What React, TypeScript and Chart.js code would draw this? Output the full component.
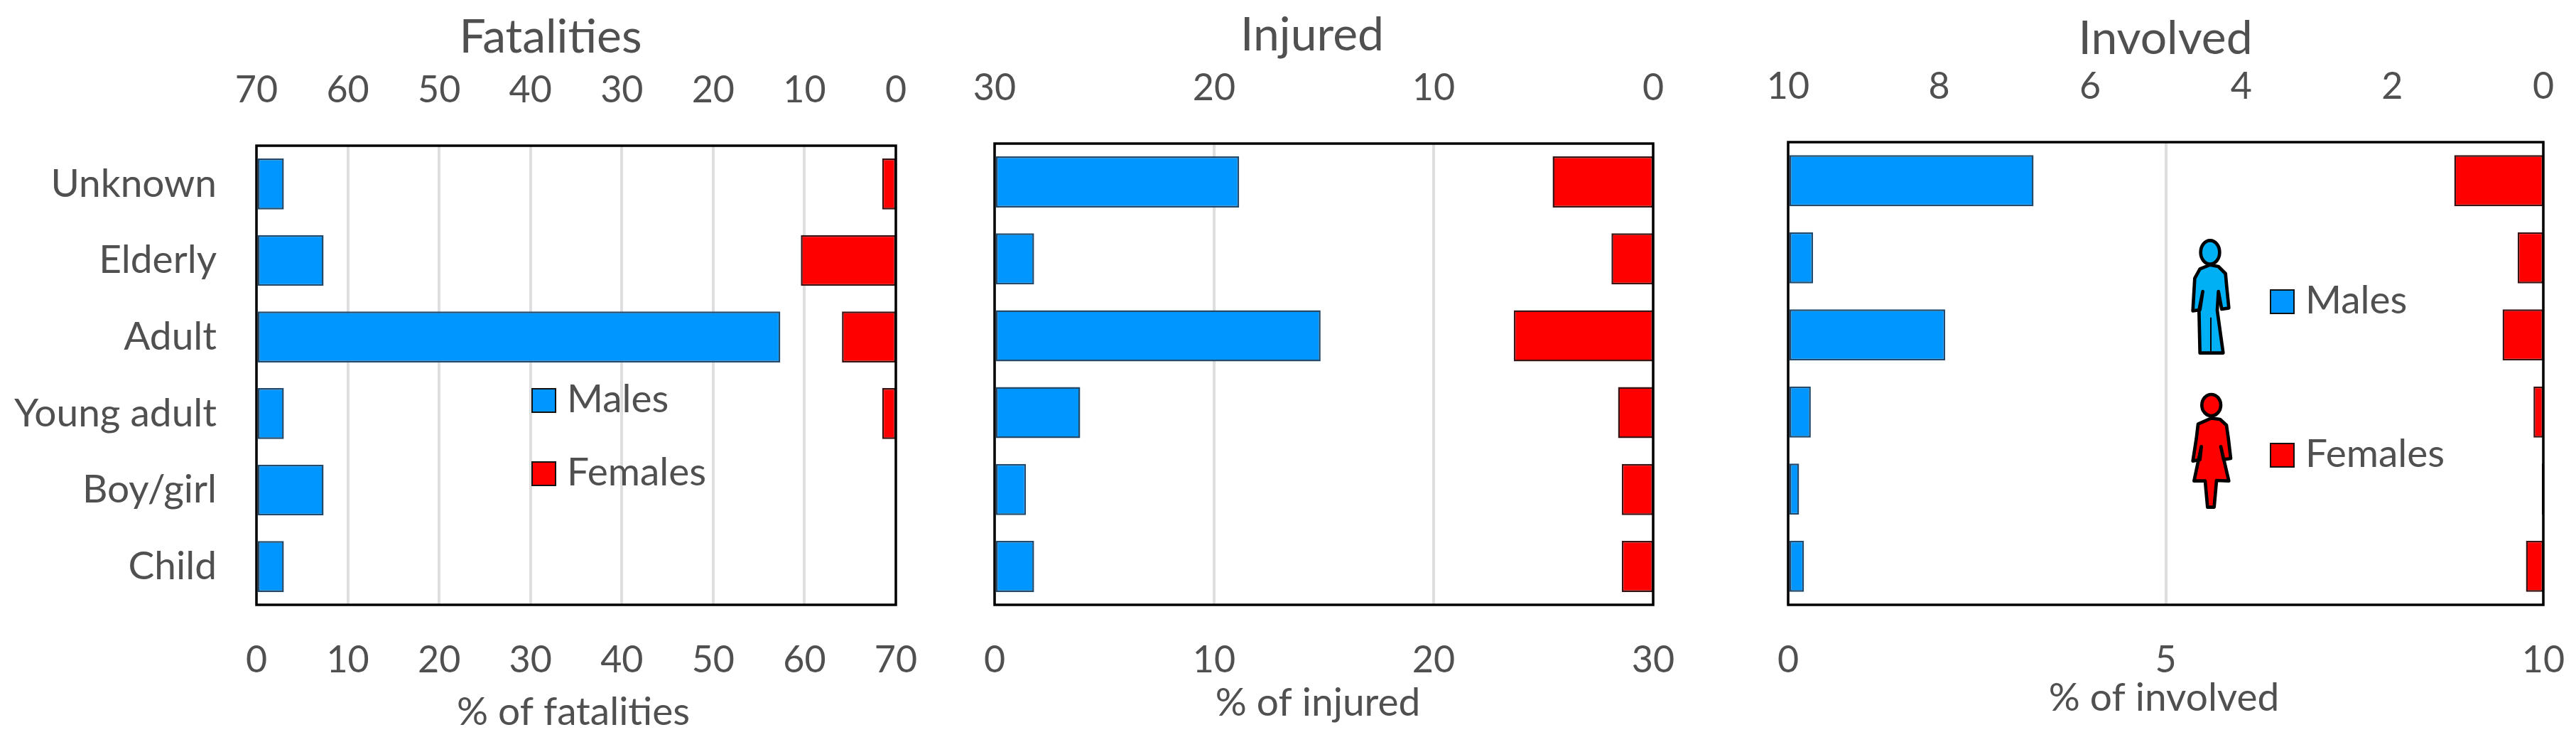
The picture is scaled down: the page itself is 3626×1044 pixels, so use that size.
import { useRef, useEffect } from 'react';
import { Chart, registerables, type Plugin } from 'chart.js';

Chart.register(...registerables);

const categories = ['Unknown', 'Elderly', 'Adult', 'Young adult', 'Boy/girl', 'Child'];

const fatalitiesMales = [3, 7.35, 57.35, 3, 7.35, 3];
const fatalitiesFemales = [1.5, 10.4, 5.9, 1.5, 0, 0];
const injuredMales = [11.14, 1.8, 14.85, 3.9, 1.43, 1.8];
const injuredFemales = [4.58, 1.9, 6.35, 1.6, 1.43, 1.43];
const involvedMales = [3.25, 0.33, 2.08, 0.3, 0.145, 0.21];
const involvedFemales = [1.18, 0.34, 0.54, 0.13, 0.02, 0.23];

const FONT = 'Lato';
const TEXT = '#505050';
const BLUE = '#0096ff';
const RED = '#ff0000';
const HEIGHT = 1044;

// outlines of the two little figures, in 3x px of the image
const maleBody = [
  [633, 218], [668, 225], [698, 255], [703, 310], [712, 400], [682, 405], [668, 330],
  [663, 410], [688, 590], [590, 590], [586, 410], [602, 330], [590, 408], [560, 412],
  [568, 275], [590, 235],
];
const femaleBody = [
  [638, 865], [675, 870], [702, 895], [710, 950], [720, 1035], [690, 1040], [678, 985],
  [712, 1130], [660, 1128], [650, 1241], [622, 1241], [612, 1130], [565, 1130], [596, 985],
  [590, 1040], [560, 1046], [575, 950], [582, 890],
];

function drawFigure(ctx: CanvasRenderingContext2D, body: number[][], cx: number, cy: number, rx: number, ry: number, fill: string, slit: boolean) {
  ctx.save();
  ctx.translate(500, 300);
  ctx.scale(1 / 3, 1 / 3);
  ctx.lineWidth = 14;
  ctx.lineJoin = 'round';
  ctx.strokeStyle = '#000';
  ctx.fillStyle = fill;
  ctx.beginPath();
  body.forEach(([x, y], i) => (i ? ctx.lineTo(x, y) : ctx.moveTo(x, y)));
  ctx.closePath();
  ctx.fill();
  ctx.stroke();
  if (slit) {
    ctx.beginPath();
    ctx.moveTo(636, 590);
    ctx.lineTo(636, 440);
    ctx.lineWidth = 6;
    ctx.stroke();
  }
  ctx.beginPath();
  ctx.ellipse(cx, cy, rx, ry, 0, 0, Math.PI * 2);
  ctx.fill();
  ctx.lineWidth = 14;
  ctx.stroke();
  ctx.restore();
}

type PanelProps = {
  left: number;
  width: number;
  plotLeft: number;
  plotRight: number;
  plotTop: number;
  plotBottom: number;
  max: number;
  bottomStep: number;
  topStep: number;
  males: number[];
  females: number[];
  title: string;
  titleX: number;
  titleY: number;
  xLabel: string;
  xLabelX: number;
  xLabelY: number;
  showCategories: boolean;
  legendX?: number;
  legendYs?: number[];
  figures: boolean;
};

const Panel = (p: PanelProps) => {
  const ref = useRef<HTMLCanvasElement | null>(null);

  useEffect(() => {
    if (!ref.current) return;

    const panelPlugin: Plugin<'bar'> = {
      id: 'panelExtras',
      afterDatasetsDraw: (chart) => {
        const { ctx, chartArea } = chart;
        ctx.save();
        // frame over the bars
        ctx.strokeStyle = '#000';
        ctx.lineWidth = 3.5;
        ctx.strokeRect(chartArea.left, chartArea.top, chartArea.right - chartArea.left, chartArea.bottom - chartArea.top);

        ctx.fillStyle = TEXT;
        ctx.textAlign = 'center';
        ctx.textBaseline = 'middle';
        ctx.font = `66px ${FONT}`;
        ctx.fillText(p.title, p.titleX, p.titleY);
        ctx.font = `55px ${FONT}`;
        ctx.fillText(p.xLabel, p.xLabelX, p.xLabelY);

        // legend, the injured panel has none
        if (p.legendYs) {
          const legendX = p.legendX as number;
          chart.data.datasets.forEach((ds, i) => {
            const y = (p.legendYs as number[])[i];
            ctx.fillStyle = ds.backgroundColor as string;
            ctx.fillRect(legendX, y, 33, 33);
            ctx.strokeStyle = '#111';
            ctx.lineWidth = 2;
            ctx.strokeRect(legendX, y, 33, 33);
            ctx.fillStyle = TEXT;
            ctx.textAlign = 'left';
            ctx.font = `55px ${FONT}`;
            ctx.fillText(ds.label as string, legendX + 49, y + 15);
          });
        }
        ctx.restore();

        if (p.figures) {
          drawFigure(ctx, maleBody, 633, 165, 40, 50, '#00b0f5', true);
          drawFigure(ctx, femaleBody, 638, 810, 40, 45, RED, false);
        }
      },
    };

    const chart = new Chart(ref.current, {
      type: 'bar',
      data: {
        labels: categories,
        datasets: [
          {
            label: 'Males',
            data: p.males,
            xAxisID: 'x',
            backgroundColor: BLUE,
            borderColor: '#234a6a',
            borderWidth: 2.5,
            borderSkipped: false,
          },
          {
            label: 'Females',
            data: p.females,
            xAxisID: 'x2',
            backgroundColor: RED,
            borderColor: '#3a1414',
            borderWidth: 2.5,
            borderSkipped: false,
          },
        ],
      },
      options: {
        indexAxis: 'y',
        responsive: false,
        animation: false,
        layout: { padding: { left: 0, top: 0, bottom: 0, right: p.width - p.plotRight } },
        datasets: { bar: { grouped: false, categoryPercentage: 1, barPercentage: 0.665 } },
        plugins: { legend: { display: false }, tooltip: { enabled: false } },
        scales: {
          x: {
            position: 'bottom',
            min: 0,
            max: p.max,
            afterFit: (scale) => {
              scale.height = HEIGHT - p.plotBottom;
              scale.paddingLeft = 0;
              scale.paddingRight = 0;
            },
            grid: { color: '#dedede', lineWidth: 4, drawTicks: false },
            border: { display: false },
            ticks: {
              stepSize: p.bottomStep,
              padding: 47,
              maxRotation: 0,
              autoSkip: false,
              color: TEXT,
              font: { family: FONT, size: 52 },
            },
          },
          x2: {
            position: 'top',
            reverse: true,
            min: 0,
            max: p.max,
            afterFit: (scale) => {
              scale.height = p.plotTop;
              scale.paddingLeft = 0;
              scale.paddingRight = 0;
            },
            grid: { display: false, drawTicks: false },
            border: { display: false },
            ticks: {
              stepSize: p.topStep,
              padding: 47,
              maxRotation: 0,
              autoSkip: false,
              color: TEXT,
              font: { family: FONT, size: 52 },
            },
          },
          y: {
            afterFit: (scale) => {
              scale.width = p.plotLeft;
              scale.paddingTop = 0;
              scale.paddingBottom = 0;
            },
            grid: { display: false, drawTicks: false },
            border: { display: false },
            ticks: {
              display: p.showCategories,
              padding: 56,
              color: TEXT,
              font: { family: FONT, size: 55 },
            },
          },
        },
      },
      plugins: [panelPlugin],
    });

    return () => {
      chart.destroy();
    };
  }, []);

  return (
    <canvas
      ref={ref}
      width={p.width}
      height={HEIGHT}
      style={{ position: 'absolute', left: p.left, top: 0, width: p.width, height: HEIGHT }}
    />
  );
};

export default function App() {
  return (
    <div style={{ position: 'absolute', left: 0, top: 0, width: 3626, height: HEIGHT, background: '#fff', overflow: 'hidden' }}>
      <Panel
        left={0}
        width={1320}
        plotLeft={361}
        plotRight={1261}
        plotTop={205}
        plotBottom={851}
        max={70}
        bottomStep={10}
        topStep={10}
        males={fatalitiesMales}
        females={fatalitiesFemales}
        title="Fatalities"
        titleX={775}
        titleY={53}
        xLabel="% of fatalities"
        xLabelX={807}
        xLabelY={1002}
        showCategories
        legendX={749}
        legendYs={[547, 650]}
        figures={false}
      />
      <Panel
        left={1320}
        width={1080}
        plotLeft={80}
        plotRight={1007}
        plotTop={202}
        plotBottom={851}
        max={30}
        bottomStep={10}
        topStep={10}
        males={injuredMales}
        females={injuredFemales}
        title="Injured"
        titleX={527}
        titleY={50}
        xLabel="% of injured"
        xLabelX={535}
        xLabelY={989}
        showCategories={false}
        figures={false}
      />
      <Panel
        left={2400}
        width={1226}
        plotLeft={117}
        plotRight={1180}
        plotTop={200}
        plotBottom={851}
        max={10}
        bottomStep={5}
        topStep={2}
        males={involvedMales}
        females={involvedFemales}
        title="Involved"
        titleX={648}
        titleY={55}
        xLabel="% of involved"
        xLabelX={646}
        xLabelY={982}
        showCategories={false}
        legendX={796}
        legendYs={[408, 624]}
        figures
      />
    </div>
  );
}
